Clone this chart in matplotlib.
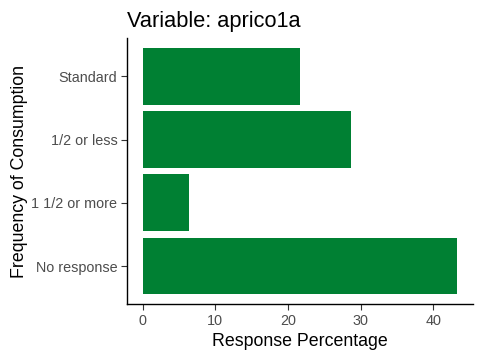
import matplotlib
matplotlib.use("Agg")
import matplotlib.pyplot as plt

categories = ["No response", "1 1/2 or more", "1/2 or less", "Standard"]
values = [43.3, 6.4, 28.7, 21.6]
xticks = [0, 10, 20, 30, 40]

plt.rcParams['font.family'] = ['Liberation Sans', 'DejaVu Sans']

fig = plt.figure(figsize=(4.8, 3.6), dpi=100)
ax = fig.add_axes([0.2646, 0.1556, 0.7204, 0.738])
y = list(range(len(categories)))
ax.barh(y, values, height=0.9, color="#008033")
ax.set_yticks(y)
ax.set_yticklabels(categories)
ax.set_xticks(xticks)
ax.set_xticklabels([str(t) for t in xticks])
vmax = max(values)
ax.set_xlim(-0.05 * vmax, vmax * 1.05)
ax.set_ylim(-0.6, len(categories) - 1 + 0.6)
for s in ["top", "right"]:
    ax.spines[s].set_visible(False)
for s in ["left", "bottom"]:
    ax.spines[s].set_linewidth(1.0)
    ax.spines[s].set_color("black")
ax.tick_params(axis="both", colors="#333333", labelcolor="#4D4D4D", labelsize=10.4, length=4, width=0.8, pad=3)
ax.set_xlabel("Response Percentage", fontsize=12.8, color="black", labelpad=4)
ax.set_ylabel("Frequency of Consumption", fontsize=12.8, color="black", labelpad=2.5)
ax.set_title("Variable: aprico1a", fontsize=15.7, loc="left", pad=8, color="black")
fig.savefig("out.png", dpi=100)
